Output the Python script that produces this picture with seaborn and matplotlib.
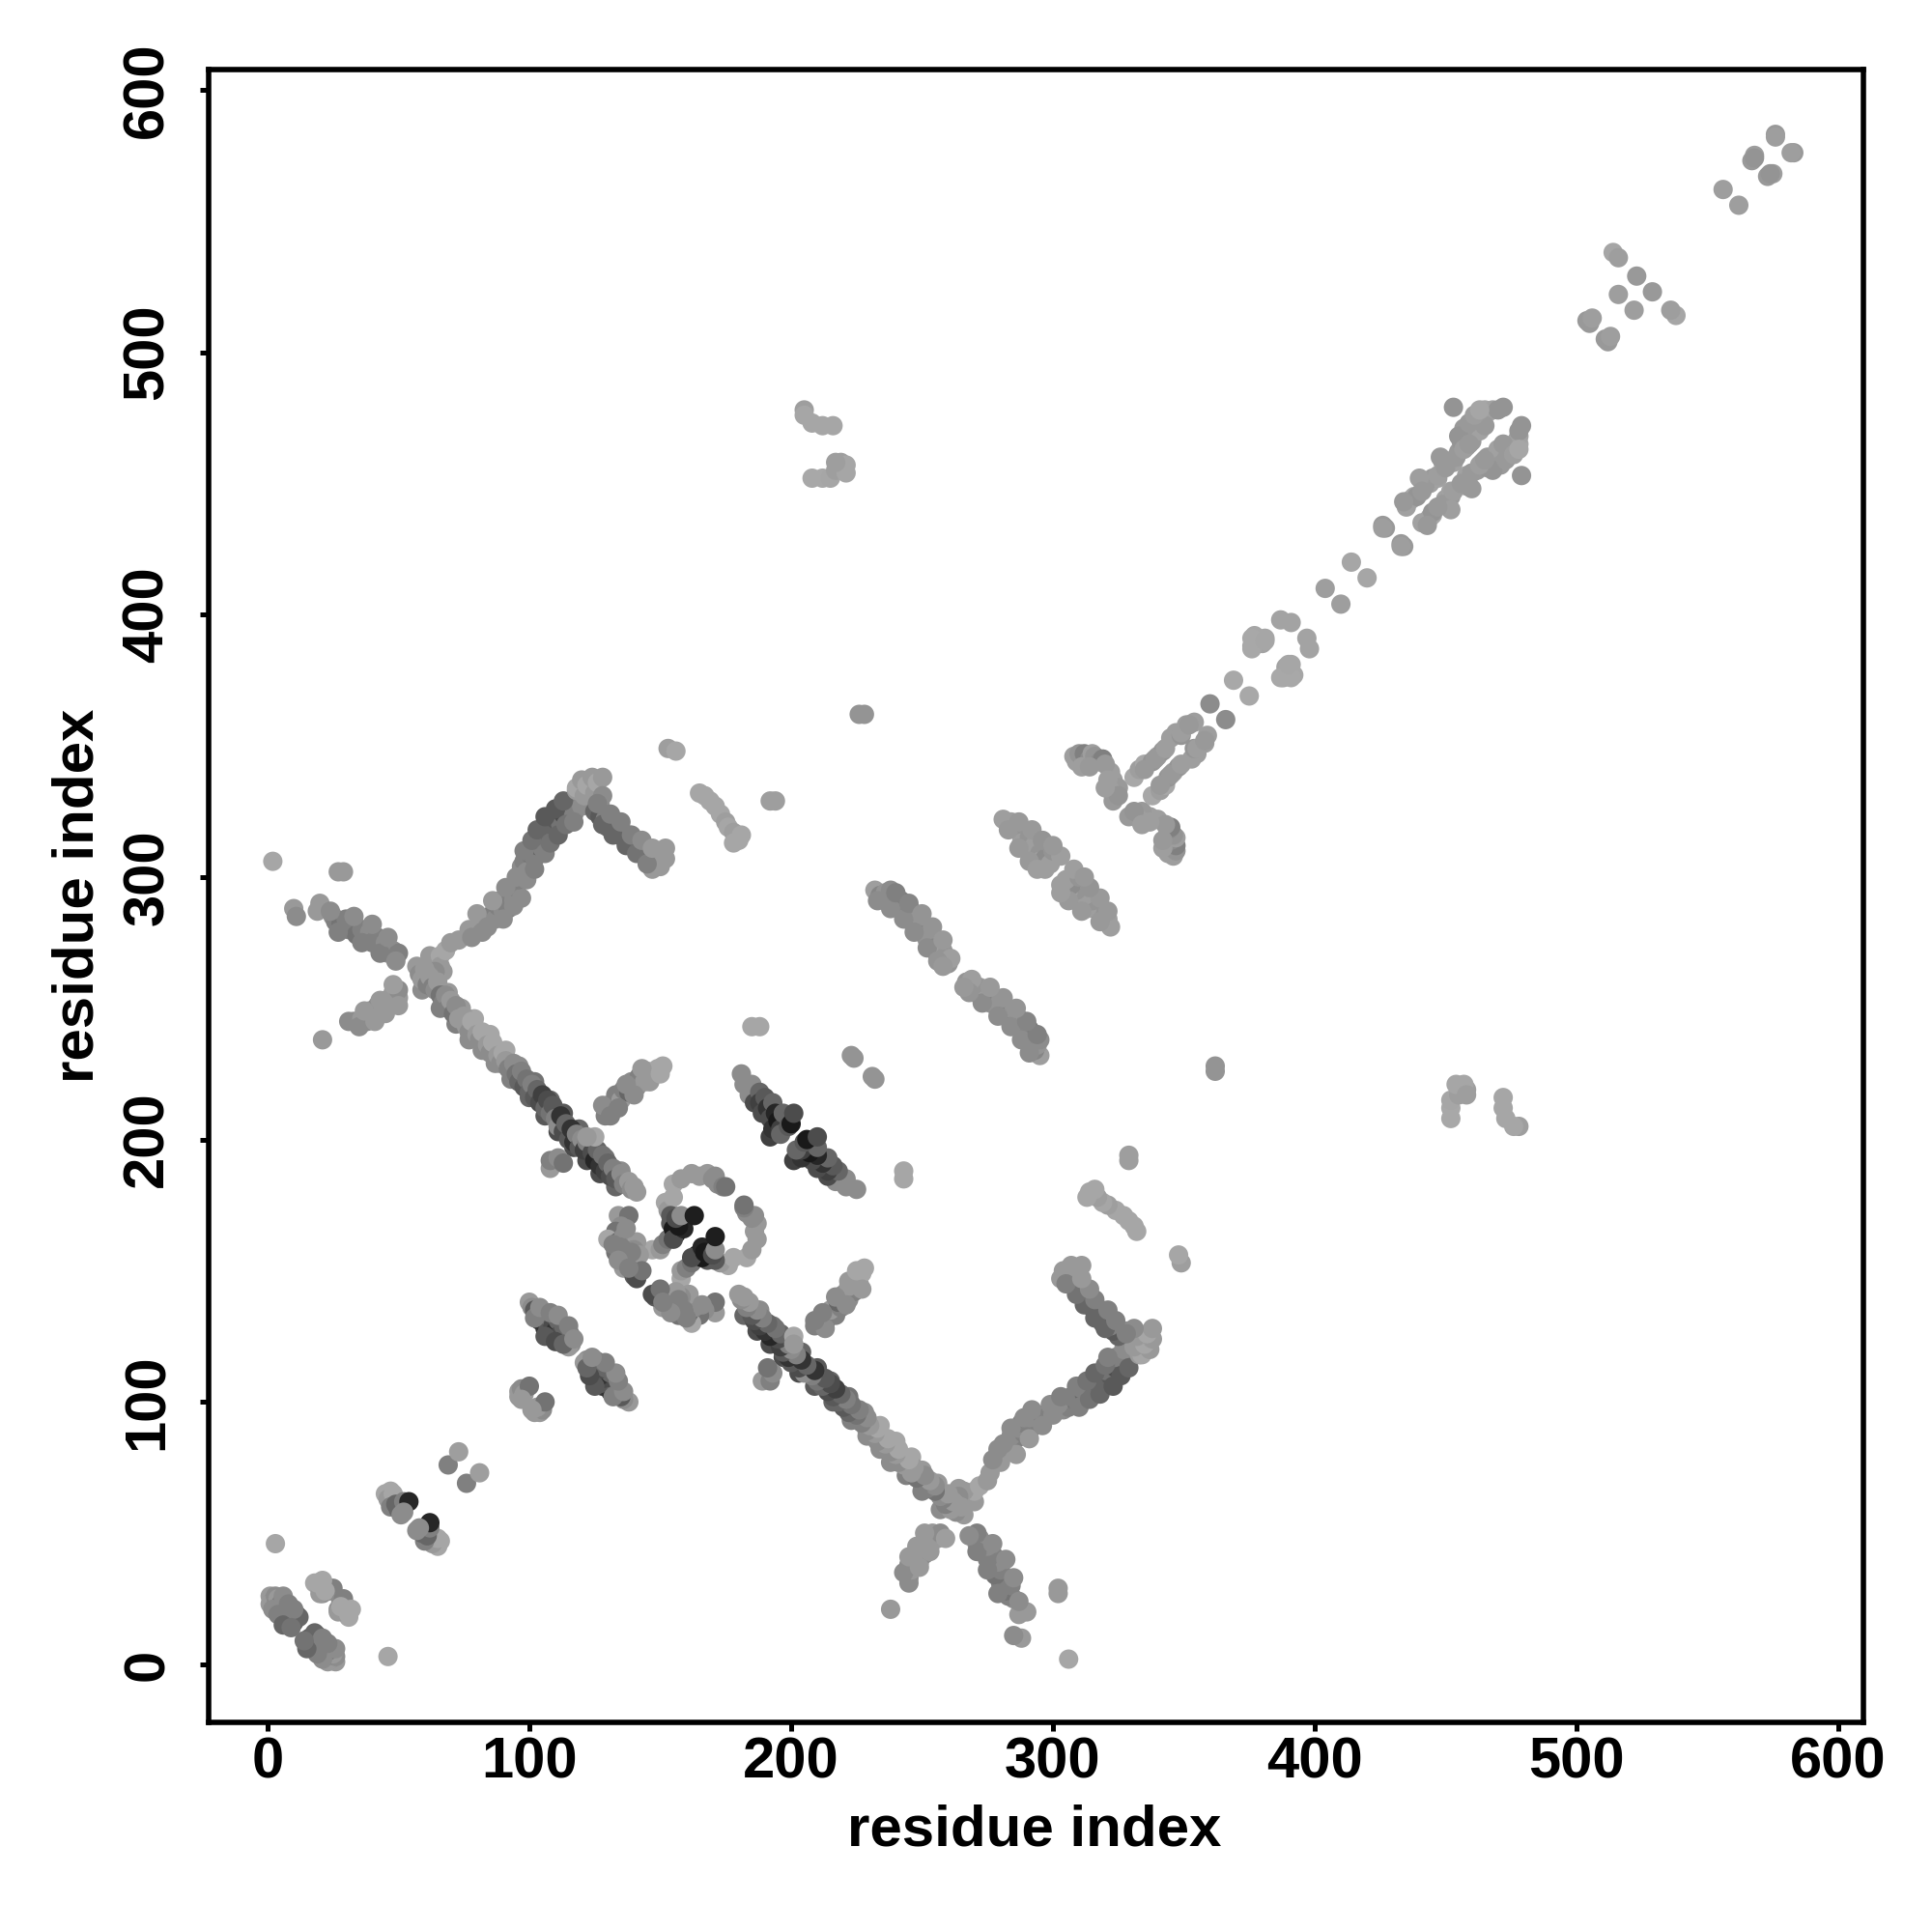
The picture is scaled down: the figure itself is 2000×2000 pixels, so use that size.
import pandas as pd
import matplotlib
matplotlib.use("Agg")
import matplotlib.pyplot as plt
import seaborn as sns

# contacts as (residue i, residue j, grey level), i < j, map is symmetric
hairpin_start = [(1,26,.6),(2,24,.55),(1,23,.6),(3,26,.55),(3,22,.5),(4,25,.6),(5,20,.45),(5,23,.5),(6,18,.5),(7,22,.35),(7,19,.3),(8,17,.25),(9,21,.5),(10,16,.35),(11,19,.4),(12,18,.4),
                 (18,31,.65),(20,31,.65),(21,27,.55),(22,30,.6),(24,28,.55),(25,29,.5),(2,21,.55),(6,26,.55),(4,19,.5),(8,23,.5),(6,15,.4),(10,21,.5),(9,14,.45)]
hairpin_loop = [(20,27,.6),(22,28,.65),(19,31,.65),(21,32,.65)]
lone_contacts = [(3,46,.65),(2,306,.65),(21,238,.6),(10,288,.6),(11,285,.55),(20,290,.6),(19,287,.6),(27,302,.6),(29,302,.6),(228,362,.58),(226,362,.58)]
strand_b = [(45,65,.65),(47,66,.65),(46,63,.6),(48,65,.65),(47,60,.5),(49,61,.4),(50,59,.4),(52,62,.5),(54,62,.15),(52,58,.55),(51,57,.55)]
pairs_c = [(69,76,.5),(73,81,.62)]
cluster_d = [(96,104,.6),(96,102,.6),(97,105,.55),(98,103,.6),(100,106,.45),(97,101,.6)]
band_e = [(100,138,.6),(101,136,.55),(102,135,.35),(103,133,.45),(104,131,.25),(105,133,.3),(106,131,.4),(106,128,.2),(107,127,.35),(108,132,.45),(109,129,.3),(110,127,.2),
          (111,131,.4),(112,126,.3),(113,129,.4),(114,124,.45),(115,127,.4),(116,125,.45),(116,122,.55),(115,121,.6)]
band_e_wide = [(102,132,.5),(104,136,.55),(106,125,.35),(108,134,.5),(110,123,.3),(111,133,.55),(113,122,.4),(115,129,.5),(117,124,.55)]
main_band = [(57,266,.6),(58,263,.55),(59,261,.6),(60,265,.6),(61,259,.5),(62,262,.6),(63,258,.5),(64,257,.55),(65,260,.6),(66,255,.45),(67,252,.5),(68,255,.55),(69,250,.5),(70,253,.6),
             (71,248,.45),(72,251,.55),(73,246,.6),(75,247,.6),(76,243,.6),(77,241,.55),(78,245,.65),(80,240,.6),(81,238,.55),(82,241,.65),(84,236,.6),(85,233,.55),(86,237,.65),(88,232,.6),
             (89,229,.55),(90,233,.65),(91,230,.6),(92,227,.5),(94,229,.55),(95,225,.45),(96,222,.4),(97,226,.5),(98,220,.35),(99,223,.45),(100,218,.4),(101,221,.5),(102,216,.35),(103,219,.4),
             (104,214,.3),(105,217,.25),(106,212,.4),(107,215,.3),(108,210,.45),(109,213,.35),(110,208,.5),(111,205,.55),(112,209,.2),(113,203,.3),(114,206,.4),(115,200,.35),(116,204,.2),
             (117,199,.2),(118,202,.5),(119,197,.35),(120,200,.55),(121,196,.25),(122,199,.5),(124,195,.3),(125,192,.15),(126,196,.4),(127,190,.2),(128,194,.45),(129,188,.25),(130,191,.4),
             (131,186,.3),(132,189,.5),(133,185,.35),(135,187,.55),(136,183,.5),(138,184,.6),(139,181,.55),(140,182,.6),(141,180,.6)]
main_band_wide = [(59,257,.55),(61,263,.6),(66,250,.5),(69,256,.6),(72,244,.5),(74,250,.6),(77,238,.55),(79,246,.65),(82,234,.55),(85,240,.65),(87,229,.55),(91,234,.65),(93,223,.5),(96,228,.55),
                  (100,216,.4),(102,222,.45),(106,209,.35),(108,215,.4),(111,203,.3),(113,210,.35),(117,197,.3),(119,204,.4),(122,192,.3),(124,199,.35),(127,187,.3),(129,193,.45),(133,182,.4),(135,188,.55)]
crossing = [(62,270,.6),(64,268,.6),(66,270,.65),(66,266,.6),(67,264,.6),(64,264,.55),(68,272,.65)]
nw_arm = [(25,285,.55),(26,283,.5),(28,282,.45),(30,284,.5),(31,280,.5),(33,282,.5),(34,278,.45),(36,280,.5),(37,277,.5),(39,279,.55),(40,275,.5),(42,277,.5),(43,273,.5),(45,275,.55),
          (46,271,.55),(48,272,.55),(50,271,.5)]
nw_arm_wide = [(24,287,.55),(27,279,.5),(33,285,.55),(36,275,.5),(40,282,.55),(43,271,.5),(46,277,.55),(49,268,.55)]
sw_arm = [(31,245,.55),(33,245,.55),(36,246,.6),(38,245,.55),(39,249,.55),(41,248,.6),(42,251,.55),(44,249,.6),(45,253,.55),(47,252,.6),(48,256,.6),(50,254,.6),(50,257,.55)]
sw_arm_wide = [(35,243,.55),(37,249,.6),(41,245,.6),(43,253,.6),(45,248,.6),(48,259,.62),(50,251,.6)]
ne_arm = [(70,275,.6),(73,276,.6),(77,280,.6),(79,279,.6),(81,282,.6),(82,279,.55),(84,284,.55),(86,286,.5),(87,284,.55),(88,289,.5),(89,291,.45),(90,287,.55),(92,288,.5),(93,293,.5),
          (94,291,.55),(95,296,.5),(97,292,.55),(96,299,.5),(97,304,.55),(98,306,.5),(99,302,.55),(100,309,.45),(102,307,.5),(103,312,.4),(104,315,.45),(105,311,.5),(106,316,.35),(107,320,.3),
          (108,317,.4),(110,322,.35),(112,320,.45),(113,324,.3),(115,326,.4),(117,324,.5),(118,329,.5),(120,327,.55)]
ne_arm_wide = [(78,277,.55),(80,286,.6),(84,281,.55),(86,291,.6),(90,284,.55),(91,296,.55),(94,289,.55),(95,300,.55),(99,299,.55),(98,310,.5),(102,303,.5),(101,314,.45),(106,309,.5),(103,318,.4),
               (108,313,.45),(106,323,.35),(111,316,.4),(110,326,.35),(114,320,.45),(113,329,.4),(117,321,.5),(118,333,.6)]
arm_top = [(118,334,.65),(120,337,.6),(121,331,.6),(122,335,.65),(124,338,.6),(125,332,.6),(126,336,.65),(128,338,.6),(128,331,.55),(127,328,.55)]
se_arm = [(125,325,.4),(127,323,.35),(129,322,.5),(130,319,.4),(132,321,.45),(133,317,.35),(135,318,.45),(136,315,.35),(138,316,.5),(139,312,.4),(141,313,.5),(142,310,.45),(144,311,.55),
          (146,307,.45),(147,303,.6),(148,309,.55),(150,304,.6),(150,310,.6),(152,311,.6),(152,307,.6)]
se_arm_wide = [(126,328,.5),(128,320,.4),(131,324,.5),(132,316,.4),(135,321,.5),(137,312,.4),(139,316,.5),(141,309,.45),(143,314,.55),(145,305,.5),(147,311,.6)]
branch_f = [(129,209,.5),(130,213,.45),(132,212,.35),(133,217,.5),(135,215,.6),(136,219,.5),(138,218,.4),(139,222,.55),(141,220,.55),(142,224,.5),(144,222,.6),(145,226,.6),(147,225,.55),
            (149,227,.65),(151,228,.65),(108,189,.6),(108,192,.5),(111,193,.55),(113,191,.45),(125,201,.65),(122,201,.6),
            (128,213,.55),(131,209,.5),(134,212,.5),(137,221,.55),(140,217,.55),(143,227,.6),(146,222,.6),(150,225,.65)]
swirl_arc = [(152,176,.65),(153,173,.6),(155,178,.65),(155,183,.65),(158,185,.6),(162,187,.6),(165,186,.6),(168,187,.6),(170,185,.55),(171,186,.55),(172,183,.55),(174,182,.5),(175,182,.45)]
swirl_inner = [(147,158,.65),(150,158,.6),(151,160,.5),(153,162,.45),(154,168,.35),(154,171,.35),(156,164,.12),(155,166,.1),(155,162,.3),(159,166,.15),(157,170,.2),(157,167,.1),(156,170,.3),(158,171,.55),(163,171,.12)]
swirl_low = [(134,171,.6),(138,171,.45),(135,167,.55),(133,165,.45),(130,162,.65),(133,157,.45),(134,161,.4),(136,163,.55),(138,160,.55),(141,161,.6),(140,158,.55),(137,155,.55),(136,151,.6),
             (139,154,.6),(142,156,.6),(141,151,.6),(140,148,.35),(141,147,.3),(143,150,.45),(135,159,.5),(132,160,.5),(137,166,.55),(139,157,.5),(134,154,.55),(138,151,.5)]
band_g = [(181,225,.55),(182,221,.55),(185,221,.55),(184,217,.55),(186,214,.3),(188,218,.4),(188,214,.25),(189,210,.3),(190,216,.35),(191,212,.2),(192,208,.3),(193,214,.4),(194,210,.15),
          (192,201,.25),(193,204,.2),(195,207,.1),(196,204,.25),(197,210,.4),(196,202,.4),(199,205,.35),(200,206,.1),(201,210,.3)]
small_pairs = [(224,231,.58),(223,232,.58),(185,243,.65),(188,243,.65),(153,349,.62),(156,348,.65),(192,329,.62),(194,329,.62)]
strand_mid = [(165,332,.65),(167,331,.65),(169,329,.65),(171,327,.65),(173,324,.65),(175,321,.62),(176,319,.65),(178,317,.62),(180,314,.65),(181,316,.65),(178,313,.65)]
band_h = [(232,295,.62),(234,293,.52),(236,294,.58),(237,291,.52),(239,293,.52),(240,289,.58),(242,291,.48),(243,287,.52),(244,284,.52),(246,287,.52),(247,283,.58),(248,280,.48),(250,282,.58),
          (251,278,.52),(252,276,.58),(254,278,.58),(255,273,.52),(256,270,.58),(257,273,.62),(258,272,.62),(259,270,.58),(260,267,.58),(261,269,.62)]
band_h_wide = [(233,291,.55),(238,295,.55),(238,288,.55),(240,294,.5),(243,284,.55),(245,290,.52),(247,279,.55),(250,286,.58),(252,273,.55),(254,281,.58),(256,268,.58),(258,276,.6),(258,266,.6)]
band_i = [(281,322,.62),(284,321,.62),(286,318,.62),(288,316,.58),(288,313,.62),(290,311,.62),(291,315,.58),(292,309,.58),(293,312,.62),(295,309,.58),(295,306,.62),(297,307,.55),(297,303,.62),
          (299,305,.62),(300,310,.58),(303,308,.62)]
band_i_wide = [(283,318,.6),(287,321,.6),(287,311,.6),(292,318,.6),(291,306,.6),(296,314,.58),(294,303,.62),(300,312,.6)]
band_j = [(308,346,.62),(309,344,.62),(310,347,.58),(312,345,.58),(312,347,.5),(314,345,.55),(315,347,.62),(316,346,.58),(318,344,.55),(319,345,.5),(322,340,.62),(323,337,.62),(325,334,.6),
          (322,333,.62),(323,329,.6),(325,331,.58),(311,342,.62),(314,342,.6),(320,343,.6),(321,337,.62),(320,334,.62)]
strand_k = [(331,338,.66),(333,341,.62),(335,343,.66),(338,344,.58),(340,346,.62),(342,348,.58),(345,353,.62),(347,355,.62),(349,354,.58),(351,358,.62),(354,359,.62),(360,366,.55),(369,375,.66),
            (335,341,.6),(339,345,.6),(343,349,.62),(349,355,.62),(352,358,.6)]
strand_l = [(377,392,.65),(376,388,.64),(378,390,.65),(380,389,.64),(381,391,.65),(387,398,.64),(391,397,.64),(376,387,.66),(376,391,.66),(381,390,.65),(404,410,.62),(414,420,.65),(427,433,.6),
            (426,434,.6),(426,433,.62)]
strand_m = [(435,441,.63),(437,444,.63),(438,445,.65),(439,445,.58),(444,450,.63),(445,452,.6),(447,452,.63),(451,458,.6),(453,458,.63),(455,462,.6),(456,466,.58),(458,464,.63),(460,466,.6),
            (461,471,.58),(462,470,.63),(464,473,.6),(465,478,.65),(466,477,.65),(468,478,.63),(470,478,.58),(472,479,.58),(463,470,.63),(465,472,.6),(453,479,.58),
            (434,443,.6),(442,449,.6),(440,452,.62),(449,458,.62),(448,460,.6),(457,471,.6),(455,468,.58),(459,473,.6),(461,476,.62),(463,478,.65),
            (441,447,.6),(447,453,.62),(450,456,.6),(454,460,.6),(457,463,.62),(459,465,.6)]
far_patch = [(205,478,.62),(205,476,.65),(208,473,.65),(212,472,.65),(216,472,.65),(208,452,.66),(212,452,.66),(215,452,.65),(217,455,.62),(219,458,.62),(221,457,.65),(221,454,.65),(217,458,.62)]
tail_contacts = [(504,512,.6),(505,511,.6),(506,513,.62),(514,538,.65),(516,536,.62),(523,529,.6),(516,522,.62),(556,562,.62),(567,573,.6),(568,575,.62),(568,574,.58),(576,583,.6),(576,582,.62)]

groups = [hairpin_start, hairpin_loop, lone_contacts, strand_b, pairs_c, cluster_d, band_e, band_e_wide, crossing, main_band_wide, main_band, nw_arm, nw_arm_wide, sw_arm, sw_arm_wide,
          ne_arm, ne_arm_wide, arm_top, se_arm, se_arm_wide, branch_f, swirl_arc, swirl_inner, swirl_low, band_g, small_pairs, strand_mid, band_h, band_h_wide, band_i, band_i_wide,
          band_j, strand_k, strand_l, strand_m, far_patch, tail_contacts]

ticks = [0, 100, 200, 300, 400, 500, 600]

rows = []
for g in groups:
    rows += g
upper = pd.DataFrame(rows, columns=["i", "j", "shade"])
# same contact on both sides of the diagonal
df = pd.concat([upper, upper.rename(columns={"i": "j", "j": "i"})], ignore_index=True)

sns.set_style("ticks")
plt.rcParams["font.family"] = ["Liberation Sans", "DejaVu Sans"]
plt.rcParams["font.weight"] = "bold"

fig = plt.figure(figsize=(10, 10), dpi=200)
ax = fig.add_axes([0.108, 0.1085, 0.8565, 0.8555])
sns.scatterplot(data=df, x="i", y="j", hue="shade", palette="gray", hue_norm=(0, 1), s=52, linewidth=0, legend=False, ax=ax)

ax.set_xlim(-22.5, 609.6)
ax.set_ylim(-22.1, 607.7)
ax.set_xticks(ticks)
ax.set_yticks(ticks)
ax.tick_params(axis="both", length=3.2, width=1.8, labelsize=21.5, color="black", labelcolor="black")
ax.tick_params(axis="x", pad=2)
ax.tick_params(axis="y", pad=9.5)
plt.setp(ax.get_yticklabels(), rotation=90, va="center")
for s in ax.spines.values():
    s.set_linewidth(2.0)
    s.set_color("black")

ax.set_xlabel("")
ax.set_ylabel("")
fig.text(0.5355, 0.0525, "residue index", fontsize=21.6, fontweight="bold", color="black", ha="center", va="center")
fig.text(0.0405, 0.5362, "residue index", fontsize=21.6, fontweight="bold", color="black", ha="center", va="center", rotation=90)

fig.savefig("out.png", dpi=200, facecolor="white")
